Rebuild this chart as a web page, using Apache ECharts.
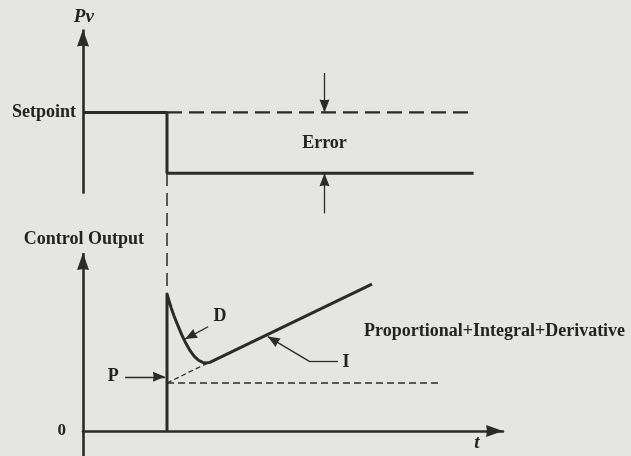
<!DOCTYPE html>
<html><head><meta charset="utf-8">
<script src="https://cdn.jsdelivr.net/npm/echarts@6/dist/echarts.min.js"></script>
<style>html,body{margin:0;padding:0;background:#e5e5e3}#c{width:631px;height:456px}</style>
</head><body><div id="c"></div>
<script>
// ---- Top panel: process variable (Pv) ----
const pvSolid = [[0, 4.95], [2, 4.95], [2, 1.25], [9.3, 1.25]];
const setpointDashed = [[2, 4.95], [9.25, 4.95]];
const pvAxisLine = [[0, 0], [0, 10]];
const errorArrowDown = [[5.75, 7.35], [5.75, 4.95]];
const errorArrowUp = [[5.75, -1.2], [5.75, 1.25]];
const setpointTick = [4.95];
const setpointName = 'Setpoint';
const topLabels = [
  { text: 'Pv', at: [0.02, 10.77], italic: true },
  { text: 'Error', at: [5.75, 3.09] }
];

// ---- Bottom panel: control output (P + I + D) ----
const outputCurve = [[2, 0], [2, 7.7], [2.05, 7.3], [2.1, 6.92], [2.17, 6.45], [2.25, 5.98], [2.35, 5.42],
  [2.45, 4.93], [2.55, 4.52], [2.65, 4.2], [2.75, 3.98], [2.85, 3.86], [2.93, 3.82], [3.02, 3.86], [6.88, 8.26]];
const pLevelDashed = [[2, 2.7], [8.5, 2.7]];
const iExtensionDashed = [[2, 2.7], [2.95, 3.8]];
const stepGuideDashed = [[2, 14.5], [2, 7.8]];
const outputAxisLine = [[0, -1.4], [0, 10]];
const pArrow = [[1.0, 3.05], [1.95, 3.05]];
const dArrow = [[2.98, 5.86], [2.43, 5.17]];
const iArrowDiag = [[5.4, 3.9], [4.4, 5.31]];
const iArrowTail = [[6.07, 3.9], [5.4, 3.9]];
const zeroTick = [0];
const bottomLabels = [
  { text: 'Control Output', at: [0.02, 10.79] },
  { text: 'D', at: [3.26, 6.42] },
  { text: 'P', at: [0.72, 3.09] },
  { text: 'I', at: [6.26, 3.85] },
  { text: 'Proportional+Integral+Derivative', at: [6.69, 5.59], left: true },
  { text: 't', at: [9.38, -0.67], italic: true }
];

const INK = '#2b2b2b';
const FONT = 'Liberation Serif';
const HEAD = 'path://M5 0 L10 14 Q5 12.5 0 14 Z';

function arrow(pts, width, size) {
  return [
    { coord: pts[0], symbol: 'none' },
    { coord: pts[1], symbol: HEAD, symbolSize: size, symbolOffset: [0, size[1] / 2], symbolKeepAspect: false,
      lineStyle: { width: width, color: INK, type: 'solid' } }
  ];
}
function labels(list) {
  return list.map(l => ({
    coord: l.at, value: l.text,
    label: {
      show: true, position: 'inside', formatter: l.text, color: '#232323',
      fontFamily: FONT, fontWeight: 'bold', fontSize: l.italic ? 19 : 18,
      fontStyle: l.italic ? 'italic' : 'normal', align: l.left ? 'left' : 'center', verticalAlign: 'middle'
    }
  }));
}
const mpBase = { symbol: 'circle', symbolSize: 1, itemStyle: { color: 'rgba(0,0,0,0)' }, animation: false };
const mlBase = { silent: true, animation: false, label: { show: false }, symbol: ['none', HEAD], itemStyle: { color: INK } };

const chart = echarts.init(document.getElementById('c'), null, { renderer: 'canvas' });
chart.setOption({
  backgroundColor: '#e5e5e3',
  animation: false,
  grid: [
    { left: 83, right: 128, top: 0, height: 215 },
    { left: 83, right: 128, top: 173, bottom: 0 }
  ],
  xAxis: [
    { gridIndex: 0, type: 'value', min: 0, max: 10, show: false },
    { gridIndex: 1, type: 'value', min: 0, max: 10,
      axisLine: { show: true, onZero: true, symbol: ['none', HEAD], symbolSize: [12, 17], symbolOffset: [0, -8.5],
        lineStyle: { color: INK, width: 2.6 } },
      axisTick: { show: false }, axisLabel: { show: false }, splitLine: { show: false } }
  ],
  yAxis: [
    { gridIndex: 0, type: 'value', min: -1.3, max: 11.8,
      axisLine: { show: false }, axisTick: { show: false }, splitLine: { show: false },
      axisLabel: { show: true, customValues: setpointTick, formatter: () => setpointName, margin: 7,
        color: '#232323', fontFamily: FONT, fontWeight: 'bold', fontSize: 18 } },
    { gridIndex: 1, type: 'value', min: -1.4, max: 14.5,
      axisLine: { show: false }, axisTick: { show: false }, splitLine: { show: false },
      axisLabel: { show: true, customValues: zeroTick, formatter: v => String(v), margin: 17,
        color: '#232323', fontFamily: FONT, fontWeight: 'bold', fontSize: 17 } }
  ],
  series: [
    { type: 'line', xAxisIndex: 0, yAxisIndex: 0, data: pvSolid, symbol: 'none', clip: false,
      lineStyle: { color: INK, width: 3 },
      markLine: Object.assign({}, mlBase, { data: [
        arrow(pvAxisLine, 2.6, [12, 17]),
        arrow(errorArrowDown, 1.3, [10, 13]),
        arrow(errorArrowUp, 1.3, [10, 13])
      ] }),
      markPoint: Object.assign({}, mpBase, { data: labels(topLabels) }) },
    { type: 'line', xAxisIndex: 0, yAxisIndex: 0, data: setpointDashed, symbol: 'none', clip: false,
      lineStyle: { color: INK, width: 2.4, type: [15, 7] } },
    { type: 'line', xAxisIndex: 1, yAxisIndex: 1, data: outputCurve, symbol: 'none', clip: false,
      lineStyle: { color: INK, width: 3, join: 'round' },
      markLine: Object.assign({}, mlBase, { data: [
        arrow(outputAxisLine, 2.6, [12, 17]),
        arrow(pArrow, 1.3, [10, 12]),
        arrow(dArrow, 1.3, [10, 12]),
        arrow(iArrowDiag, 1.3, [10, 12]),
        [{ coord: iArrowTail[0], symbol: 'none' }, { coord: iArrowTail[1], symbol: 'none', lineStyle: { width: 1.3, color: INK, type: 'solid' } }]
      ] }),
      markPoint: Object.assign({}, mpBase, { data: labels(bottomLabels) }) },
    { type: 'line', xAxisIndex: 1, yAxisIndex: 1, data: pLevelDashed, symbol: 'none', clip: false,
      lineStyle: { color: INK, width: 1.5, type: [7, 4] } },
    { type: 'line', xAxisIndex: 1, yAxisIndex: 1, data: iExtensionDashed, symbol: 'none', clip: false,
      lineStyle: { color: INK, width: 1.3, type: [5, 3] } },
    { type: 'line', xAxisIndex: 1, yAxisIndex: 1, data: stepGuideDashed, symbol: 'none', clip: false,
      lineStyle: { color: INK, width: 1.5, type: [13, 7] } }
  ]
});
</script></body></html>
